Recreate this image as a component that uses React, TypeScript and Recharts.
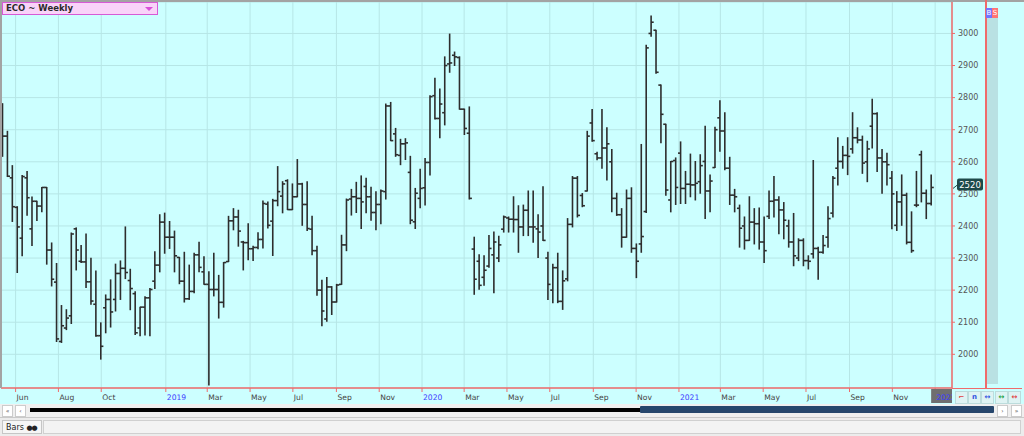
import React from "react";
import {
  ComposedChart,
  Bar,
  XAxis,
  YAxis,
  CartesianGrid,
  ReferenceLine,
} from "recharts";

const DAY = 86400000;
const START = Date.UTC(2018, 4, 14) / DAY; // first weekly bar

// weekly OHLC
const opens = [
  2779, 2680, 2550, 2458, 2362, 2550, 2391, 2477, 2462, 2520, 2325, 2225, 2040, 2082, 2120, 2391, 2290, 2288, 2226, 2156,
  2058, 2145, 2171, 2171, 2252, 2268, 2230, 2189, 2082, 2147, 2176, 2228, 2278, 2412, 2365, 2365, 2302, 2228, 2173, 2196,
  2310, 2257, 2218, 2202, 2202, 2162, 2289, 2416, 2428, 2350, 2348, 2329, 2333, 2358, 2468, 2415, 2479, 2493, 2541, 2451,
  2491, 2531, 2467, 2390, 2323, 2200, 2110, 2210, 2163, 2218, 2341, 2484, 2491, 2486, 2523, 2491, 2442, 2467, 2507, 2774,
  2687, 2620, 2656, 2567, 2413, 2486, 2519, 2598, 2806, 2735, 2753, 2905, 2932, 2925, 2764, 2689, 2328, 2290, 2240, 2275,
  2310, 2300, 2390, 2425, 2421, 2420, 2397, 2449, 2397, 2391, 2400, 2300, 2200, 2270, 2165, 2235, 2405, 2549, 2495, 2509,
  2721, 2625, 2612, 2643, 2600, 2486, 2435, 2365, 2486, 2330, 2344, 2445, 3000, 3010, 2839, 2717, 2481, 2604, 2627, 2517,
  2530, 2528, 2538, 2601, 2509, 2582, 2737, 2696, 2580, 2496, 2455, 2400, 2355, 2412, 2407, 2350, 2430, 2477, 2481, 2450,
  2400, 2350, 2300, 2355, 2292, 2313, 2330, 2318, 2365, 2440, 2580, 2601, 2620, 2640, 2675, 2668, 2600, 2711, 2750, 2612,
  2600, 2549, 2402, 2475, 2496, 2349, 2465, 2622, 2502, 2470,
];
const highs = [
  2781, 2695, 2588, 2460, 2557, 2570, 2490, 2477, 2520, 2520, 2347, 2283, 2152, 2139, 2378, 2394, 2339, 2375, 2299, 2260,
  2098, 2185, 2232, 2281, 2291, 2397, 2265, 2195, 2147, 2179, 2205, 2320, 2435, 2440, 2414, 2384, 2302, 2318, 2278, 2315,
  2349, 2304, 2257, 2315, 2246, 2286, 2430, 2454, 2449, 2352, 2407, 2337, 2379, 2478, 2475, 2483, 2585, 2538, 2544, 2531,
  2607, 2533, 2538, 2430, 2337, 2231, 2239, 2211, 2218, 2371, 2484, 2514, 2536, 2556, 2549, 2521, 2507, 2512, 2780, 2785,
  2704, 2670, 2672, 2617, 2517, 2577, 2610, 2806, 2860, 2827, 2927, 2998, 2942, 2927, 2764, 2771, 2365, 2310, 2307, 2370,
  2381, 2368, 2431, 2428, 2491, 2463, 2465, 2509, 2509, 2435, 2522, 2318, 2281, 2315, 2260, 2423, 2554, 2554, 2501, 2695,
  2763, 2630, 2763, 2706, 2638, 2502, 2454, 2512, 2519, 2344, 2654, 2963, 3054, 3010, 2839, 2717, 2601, 2612, 2662, 2570,
  2624, 2601, 2622, 2711, 2559, 2708, 2790, 2753, 2614, 2514, 2465, 2428, 2491, 2454, 2456, 2428, 2509, 2554, 2491, 2473,
  2418, 2439, 2360, 2360, 2307, 2604, 2334, 2370, 2460, 2554, 2675, 2648, 2675, 2753, 2706, 2680, 2664, 2795, 2753, 2638,
  2627, 2570, 2507, 2559, 2502, 2444, 2570, 2633, 2512, 2559,
];
const lows = [
  2617, 2554, 2414, 2255, 2307, 2433, 2339, 2417, 2444, 2281, 2213, 2040, 2037, 2077, 2096, 2263, 2286, 2208, 2156, 2056,
  1985, 2067, 2085, 2135, 2171, 2236, 2139, 2062, 2058, 2060, 2058, 2205, 2257, 2315, 2330, 2257, 2220, 2163, 2171, 2192,
  2257, 2218, 1904, 2182, 2113, 2147, 2289, 2388, 2337, 2263, 2295, 2292, 2329, 2331, 2394, 2308, 2463, 2441, 2451, 2451,
  2491, 2402, 2386, 2310, 2184, 2089, 2103, 2124, 2163, 2218, 2323, 2434, 2442, 2392, 2441, 2418, 2388, 2407, 2484, 2666,
  2617, 2591, 2607, 2407, 2392, 2457, 2465, 2559, 2733, 2675, 2715, 2879, 2900, 2764, 2685, 2484, 2187, 2203, 2215, 2271,
  2192, 2289, 2381, 2381, 2381, 2318, 2370, 2370, 2349, 2302, 2355, 2171, 2161, 2161, 2140, 2229, 2397, 2428, 2460, 2509,
  2664, 2606, 2580, 2543, 2444, 2433, 2334, 2365, 2318, 2239, 2318, 2442, 2991, 2876, 2659, 2496, 2444, 2467, 2470, 2470,
  2491, 2481, 2502, 2423, 2444, 2582, 2633, 2575, 2467, 2444, 2334, 2328, 2355, 2344, 2328, 2286, 2423, 2428, 2376, 2360,
  2334, 2276, 2292, 2276, 2266, 2300, 2234, 2315, 2334, 2428, 2528, 2580, 2560, 2627, 2659, 2564, 2538, 2643, 2570, 2502,
  2528, 2391, 2386, 2402, 2344, 2318, 2460, 2475, 2423, 2465,
];
const closes = [
  2680, 2555, 2460, 2397, 2554, 2488, 2477, 2462, 2520, 2325, 2234, 2048, 2089, 2113, 2375, 2325, 2288, 2226, 2166, 2058,
  2025, 2171, 2132, 2252, 2268, 2255, 2205, 2067, 2147, 2176, 2202, 2278, 2412, 2365, 2365, 2307, 2228, 2173, 2196, 2310,
  2271, 2218, 2202, 2202, 2162, 2286, 2416, 2428, 2384, 2348, 2329, 2333, 2358, 2470, 2402, 2479, 2507, 2531, 2451, 2491,
  2531, 2467, 2392, 2323, 2200, 2135, 2210, 2163, 2216, 2341, 2481, 2491, 2486, 2475, 2491, 2442, 2467, 2509, 2774, 2666,
  2622, 2656, 2659, 2418, 2502, 2517, 2598, 2803, 2735, 2780, 2900, 2908, 2927, 2764, 2704, 2486, 2234, 2215, 2262, 2330,
  2350, 2341, 2428, 2421, 2420, 2397, 2449, 2397, 2397, 2381, 2355, 2218, 2270, 2165, 2229, 2405, 2549, 2433, 2463, 2680,
  2666, 2612, 2643, 2656, 2486, 2435, 2365, 2486, 2330, 2290, 2367, 2955, 3035, 2879, 2748, 2512, 2601, 2520, 2517, 2530,
  2528, 2533, 2588, 2509, 2540, 2700, 2696, 2580, 2496, 2491, 2393, 2355, 2412, 2407, 2350, 2323, 2477, 2481, 2450, 2418,
  2350, 2307, 2355, 2292, 2290, 2330, 2318, 2339, 2423, 2549, 2601, 2620, 2617, 2675, 2668, 2596, 2640, 2750, 2612, 2600,
  2591, 2500, 2475, 2496, 2349, 2323, 2465, 2502, 2470, 2520,
];

const priceTicks = [2000, 2100, 2200, 2300, 2400, 2500, 2600, 2700, 2800, 2900, 3000];
const monthTicks = [
  "2018-06", "2018-08", "2018-10", "2019-01", "2019-03", "2019-05", "2019-07", "2019-09", "2019-11",
  "2020-01", "2020-03", "2020-05", "2020-07", "2020-09", "2020-11",
  "2021-01", "2021-03", "2021-05", "2021-07", "2021-09", "2021-11", "2022-01",
];
const MONTHS = ["Jan", "Feb", "Mar", "Apr", "May", "Jun", "Jul", "Aug", "Sep", "Oct", "Nov", "Dec"];

const data = opens.map((o, i) => ({
  t: START + 7 * i,
  range: [Math.min(lows[i], o, closes[i]), Math.max(highs[i], o, closes[i])],
  o,
  c: closes[i],
}));
const xTicks = monthTicks.map((s) => {
  const [y, m] = s.split("-").map(Number);
  return Date.UTC(y, m - 1, 1) / DAY;
});
const lastClose = closes[closes.length - 1];

const PLOT_RIGHT = 952;
const RED = "#ef6b6b";
const FONT = "DejaVu Sans, sans-serif";

function OhlcBar(props: any) {
  const { x, y, width, height, payload } = props;
  if (x == null || !payload) return null;
  const top = Math.min(y, y + height);
  const bot = Math.max(y, y + height);
  const [lo, hi] = payload.range;
  const py = (v: number) => (hi === lo ? top : top + ((hi - v) / (hi - lo)) * (bot - top));
  const cx = x + width / 2;
  return (
    <g stroke="#2d2d2d" strokeWidth={1.6}>
      <line x1={cx} x2={cx} y1={top - 0.5} y2={bot + 0.5} />
      <line x1={cx - 2.6} x2={cx} y1={py(payload.o)} y2={py(payload.o)} />
      <line x1={cx} x2={cx + 2.6} y1={py(payload.c)} y2={py(payload.c)} />
    </g>
  );
}

function MonthTick(props: any) {
  const { x, y, payload } = props;
  const d = new Date(payload.value * DAY);
  const m = d.getUTCMonth();
  const isYear = m === 0;
  const label = isYear ? String(d.getUTCFullYear()) : MONTHS[m];
  const current = d.getUTCFullYear() === 2022;
  return (
    <g>
      {current && (
        <>
          <defs>
            <clipPath id="curclip">
              <rect x={x - 4} y={y - 3} width={PLOT_RIGHT - x + 4} height={15} />
            </clipPath>
          </defs>
          <rect x={x - 4} y={y - 3} width={PLOT_RIGHT - x + 4} height={14} fill="#6f6f6f" />
        </>
      )}
      <text
        x={x + 1}
        y={y + 8}
        fontSize={7.6}
        fontFamily={FONT}
        fill={isYear ? "#3d3dff" : "#444"}
        clipPath={current ? "url(#curclip)" : undefined}
      >
        {label}
      </text>
    </g>
  );
}

function LastPrice(props: any) {
  const vb = props.viewBox || {};
  const rx = (vb.x ?? 0) + (vb.width ?? 0);
  const ry = vb.y ?? 0;
  return (
    <g>
      <line x1={rx + 1} y1={ry + 1} x2={rx + 6} y2={ry - 3} stroke="#1e4848" strokeWidth={1} />
      <rect x={rx + 5} y={ry - 9} width={26} height={12} rx={2} fill="#1e4a4a" />
      <text x={rx + 18} y={ry + 0.5} textAnchor="middle" fontSize={8.5} fontFamily={FONT} fill="#fff">
        {lastClose}
      </text>
    </g>
  );
}

const btn = (left: number, color: string, glyph: string) => (
  <div
    key={left}
    style={{
      position: "absolute",
      left,
      top: 391,
      width: 11,
      height: 11,
      background: "#def3f3",
      border: "1px solid #bcdcdc",
      fontSize: 7,
      lineHeight: "11px",
      textAlign: "center",
      color,
      fontWeight: "bold",
    }}
  >
    {glyph}
  </div>
);

export default function App() {
  return (
    <div
      style={{
        position: "absolute",
        left: 0,
        top: 0,
        width: 1024,
        height: 436,
        background: "#ccffff",
        fontFamily: FONT,
        overflow: "hidden",
      }}
    >
      <ComposedChart
        width={1024}
        height={404}
        data={data}
        margin={{ top: 2, right: 39, bottom: 0, left: 1 }}
        style={{ position: "absolute", left: 0, top: 0 }}
      >
        <CartesianGrid stroke="#b6e6e6" strokeWidth={1} />
        <XAxis
          dataKey="t"
          type="number"
          domain={[START - 2.8, START + 1352]}
          ticks={xTicks}
          tick={<MonthTick />}
          tickSize={4}
          tickMargin={0}
          height={16}
          axisLine={{ stroke: RED, strokeWidth: 1.5 }}
          tickLine={{ stroke: RED }}
          interval={0}
          allowDataOverflow
        />
        <YAxis
          orientation="right"
          type="number"
          domain={[1895, 3098]}
          ticks={priceTicks}
          width={33}
          tickSize={3}
          tickMargin={3}
          axisLine={{ stroke: RED, strokeWidth: 1.5 }}
          tickLine={{ stroke: RED }}
          tick={{ fill: "#555", fontSize: 8, fontFamily: FONT, textAnchor: "start" }}
          allowDataOverflow
        />
        <Bar dataKey="range" barSize={4} shape={<OhlcBar />} isAnimationActive={false} />
        <ReferenceLine y={lastClose} stroke="none" ifOverflow="visible" label={<LastPrice />} />
      </ComposedChart>

      {/* frame lines */}
      <div style={{ position: "absolute", left: 0, top: 0, width: 1024, height: 2, background: "#a3a3a3" }} />
      <div style={{ position: "absolute", left: 0, top: 0, width: 2, height: 388, background: "#a3a3a3" }} />
      <div style={{ position: "absolute", left: 985, top: 0, width: 1.5, height: 388, background: RED }} />
      <div style={{ position: "absolute", left: 952, top: 387.5, width: 70, height: 1.5, background: RED }} />

      {/* right strip with B / S */}
      <div style={{ position: "absolute", left: 987, top: 18, width: 11, height: 366, background: "#b9e1e3" }} />
      <div style={{ position: "absolute", left: 986, top: 8, width: 6, height: 10, background: "#7474ff", color: "#fff", fontSize: 7, lineHeight: "10px", textAlign: "center" }}>B</div>
      <div style={{ position: "absolute", left: 992, top: 8, width: 6, height: 10, background: "#ff7474", color: "#fff", fontSize: 7, lineHeight: "10px", textAlign: "center" }}>S</div>

      {/* title box */}
      <div
        style={{
          position: "absolute",
          left: 2,
          top: 2,
          width: 151,
          height: 11,
          background: "#f9d3f9",
          border: "1px solid #d65ad6",
          fontSize: 8.5,
          lineHeight: "11px",
          fontWeight: "bold",
          color: "#2a2a2a",
          paddingLeft: 3,
          boxSizing: "content-box",
        }}
      >
        ECO ~ Weekly
        <svg width={8} height={5} style={{ position: "absolute", right: 4, top: 4 }}>
          <polygon points="0,0 8,0 4,4" fill="#d84fd8" />
        </svg>
      </div>

      {/* axis row buttons */}
      {btn(955, "#e04040", "⌐")}
      {btn(968, "#3050e0", "n")}
      {btn(981, "#3050e0", "↔")}
      {btn(995, "#20a040", "↔")}
      {btn(1008, "#e04040", "↔")}

      {/* scroll row */}
      <div style={{ position: "absolute", left: 0, top: 404, width: 1024, height: 13, background: "#efefef" }} />
      <div style={{ position: "absolute", left: 2, top: 405, width: 9, height: 10, background: "#fff", border: "1px solid #ccc", fontSize: 6, lineHeight: "10px", textAlign: "center", color: "#333" }}>«</div>
      <div style={{ position: "absolute", left: 15, top: 405, width: 9, height: 10, background: "#fff", border: "1px solid #ccc", fontSize: 6, lineHeight: "10px", textAlign: "center", color: "#333" }}>‹</div>
      <div style={{ position: "absolute", left: 30, top: 408, width: 612, height: 4, background: "#000" }} />
      <div style={{ position: "absolute", left: 640, top: 406, width: 354, height: 7, background: "#26466c", borderRadius: 1 }} />
      <div style={{ position: "absolute", left: 997, top: 405, width: 9, height: 10, background: "#fff", border: "1px solid #ccc", fontSize: 6, lineHeight: "10px", textAlign: "center", color: "#333" }}>›</div>
      <div style={{ position: "absolute", left: 1011, top: 405, width: 9, height: 10, background: "#fff", border: "1px solid #ccc", fontSize: 6, lineHeight: "10px", textAlign: "center", color: "#333" }}>»</div>

      {/* bottom tab row */}
      <div style={{ position: "absolute", left: 0, top: 417, width: 1024, height: 19, background: "#ececec", borderTop: "1px solid #c9c9c9" }} />
      <div
        style={{
          position: "absolute",
          left: 2,
          top: 420,
          width: 40,
          height: 14,
          background: "#f6f6f6",
          border: "1px solid #c6c6c6",
          fontSize: 8,
          lineHeight: "14px",
          paddingLeft: 3,
          boxSizing: "border-box",
          color: "#222",
        }}
      >
        Bars <span style={{ fontSize: 7, letterSpacing: -1 }}>●●</span>
      </div>
      <div style={{ position: "absolute", left: 43, top: 420, width: 978, height: 14, background: "#f3f3f3", border: "1px solid #d0d0d0", boxSizing: "border-box" }} />
    </div>
  );
}
